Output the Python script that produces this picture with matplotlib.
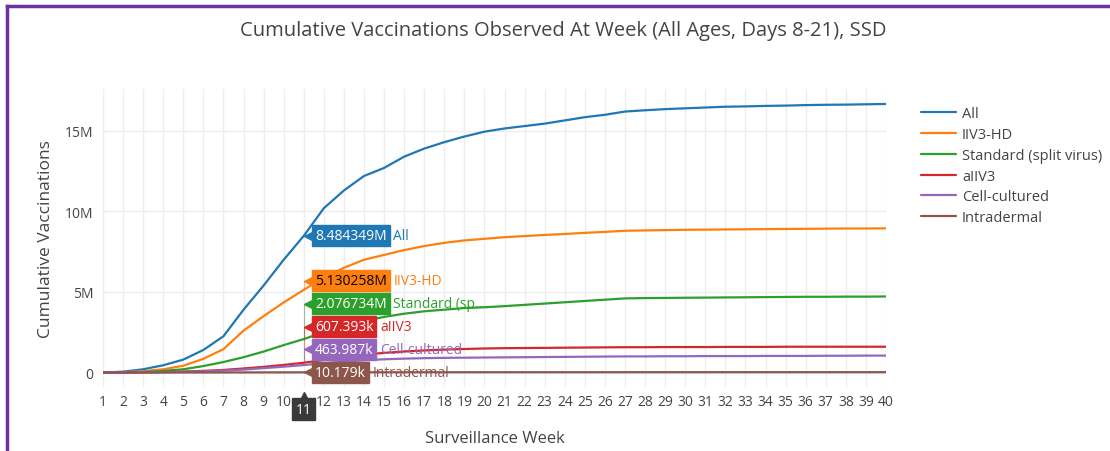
import numpy as np
import matplotlib
matplotlib.use("Agg")
import matplotlib.pyplot as plt
from matplotlib.lines import Line2D
from matplotlib.ticker import FuncFormatter
from matplotlib import transforms

plt.rcParams['font.family'] = ['Open Sans', 'DejaVu Sans']

# Data (millions of vaccinations), weeks 1-40
weeks = list(range(1, 41))

all_vax = [0.0, 0.05, 0.2, 0.45, 0.8, 1.4, 2.25, 3.9, 5.4, 7.0, 8.484349,
           10.2, 11.3, 12.2, 12.7, 13.4, 13.9, 14.3, 14.65, 14.95, 15.15,
           15.3, 15.45, 15.65, 15.85, 16.0, 16.2, 16.28, 16.35, 16.4, 16.45,
           16.5, 16.52, 16.55, 16.57, 16.6, 16.62, 16.63, 16.65, 16.67]
iiv3_hd = [0.0, 0.02, 0.08, 0.2, 0.42, 0.85, 1.45, 2.6, 3.5, 4.35, 5.130258,
           5.9, 6.5, 7.0, 7.3, 7.6, 7.85, 8.05, 8.2, 8.3, 8.4,
           8.47, 8.54, 8.6, 8.67, 8.73, 8.8, 8.82, 8.84, 8.86, 8.87,
           8.88, 8.89, 8.9, 8.91, 8.92, 8.93, 8.94, 8.94, 8.95]
standard = [0.0, 0.01, 0.04, 0.1, 0.2, 0.4, 0.65, 0.95, 1.3, 1.7, 2.076734,
            2.5, 2.9, 3.2, 3.45, 3.65, 3.8, 3.9, 4.0, 4.05, 4.12,
            4.2, 4.28, 4.36, 4.44, 4.52, 4.6, 4.62, 4.63, 4.64, 4.65,
            4.66, 4.67, 4.68, 4.69, 4.7, 4.7, 4.71, 4.71, 4.72]
aiiv3 = [0.0, 0.0, 0.01, 0.03, 0.06, 0.1, 0.16, 0.25, 0.35, 0.47, 0.607393,
         0.78, 0.95, 1.1, 1.22, 1.3, 1.37, 1.42, 1.46, 1.49, 1.51,
         1.52, 1.53, 1.54, 1.55, 1.56, 1.57, 1.57, 1.58, 1.58, 1.58,
         1.59, 1.59, 1.59, 1.6, 1.6, 1.6, 1.6, 1.6, 1.6]
cell = [0.0, 0.0, 0.01, 0.02, 0.04, 0.07, 0.12, 0.18, 0.27, 0.36, 0.463987,
        0.58, 0.68, 0.76, 0.82, 0.86, 0.89, 0.91, 0.92, 0.93, 0.94,
        0.95, 0.96, 0.97, 0.98, 0.99, 1.0, 1.0, 1.01, 1.01, 1.02,
        1.02, 1.02, 1.03, 1.03, 1.03, 1.04, 1.04, 1.05, 1.05]
intradermal = [0.0, 0.0, 0.0, 0.001, 0.001, 0.002, 0.003, 0.005, 0.007, 0.009, 0.010179,
               0.011, 0.012, 0.013, 0.014, 0.015, 0.015, 0.016, 0.016, 0.017, 0.017,
               0.017, 0.018, 0.018, 0.018, 0.018, 0.019, 0.019, 0.019, 0.019, 0.019,
               0.02, 0.02, 0.02, 0.02, 0.02, 0.02, 0.02, 0.02, 0.02]

names = ["All", "IIV3-HD", "Standard (split virus)", "aIIV3", "Cell-cultured", "Intradermal"]
short_names = ["All", "IIV3-HD", "Standard (sp...", "aIIV3", "Cell-cultured", "Intradermal"]
series = [all_vax, iiv3_hd, standard, aiiv3, cell, intradermal]
colors = ["#1f77b4", "#ff7f0e", "#2ca02c", "#d62728", "#9467bd", "#8c564b"]
hover_week = 11

fig = plt.figure(figsize=(11.1, 4.52), dpi=100)
ax = fig.add_axes([103 / 1110, 1 - 388 / 452, (886 - 103) / 1110, (388 - 90) / 452])

for vals, name, c in zip(series, names, colors):
    ax.plot(weeks, vals, color=c, lw=1.6, label=name, solid_capstyle='round')

ax.set_xlim(1, 40)
ax.set_ylim(-0.9, 17.6)
ax.set_xticks(weeks)
# the hover box covers the tick label of the hovered week
ax.set_xticklabels(["" if w == hover_week else str(w) for w in weeks])
ax.set_yticks([0, 5, 10, 15])
ax.yaxis.set_major_formatter(FuncFormatter(lambda v, p: "0" if v == 0 else f"{v:g}M"))
ax.grid(True, color="#eeeeee", lw=1)
ax.set_axisbelow(True)
for s in ax.spines.values():
    s.set_visible(False)
ax.tick_params(length=0, labelsize=10, colors="#444444", pad=5)
ax.tick_params(axis='y', pad=7)

ax.set_xlabel("Surveillance Week", fontsize=12, color="#444444", labelpad=15)
ax.set_ylabel("Cumulative Vaccinations", fontsize=12.5, color="#444444", labelpad=8)
fig.text(0.507, 0.932, "Cumulative Vaccinations Observed At Week (All Ages, Days 8-21), SSD",
         ha="center", va="center", fontsize=14.5, color="#444444")

# hover labels at week 11, stacked so they don't overlap
idx = weeks.index(hover_week)
gap = 1.42
order = list(range(len(series)))[::-1]
label_y = {}
prev = None
for i in order:
    v = series[i][idx]
    y = v if prev is None else max(v, prev + gap)
    label_y[i] = y
    prev = y


def fmt(v):
    if v >= 1:
        return f"{v:.6f}".rstrip('0').rstrip('.') + "M"
    return f"{v * 1000:.3f}" + "k"


for i in range(len(series)):
    v = series[i][idx]
    y = label_y[i]
    c = colors[i]
    tc = "black" if i == 1 else "white"
    t = ax.annotate(fmt(v), xy=(hover_week, y), xytext=(8, 0), textcoords="offset points",
                    ha="left", va="center", fontsize=10, color=tc,
                    bbox=dict(boxstyle="square,pad=0.22", fc=c, ec=c))
    tri = transforms.offset_copy(ax.transData, fig=fig, x=4, y=0, units="points")
    ax.plot([hover_week], [y], marker="<", ms=7, color=c, transform=tri, clip_on=False)
    if abs(y - v) > 0.05:
        ax.plot([hover_week, hover_week], [v, y], color=c, lw=0.8, alpha=0.5)
    ax.annotate(short_names[i], xy=(1, 0.5), xycoords=t, xytext=(5, 0),
                textcoords="offset points", ha="left", va="center", fontsize=10, color=c)

# x-axis hover box
ax.annotate(str(hover_week), xy=(hover_week, 0), xycoords=("data", "axes fraction"),
            xytext=(0, -16), textcoords="offset points", ha="center", va="center",
            fontsize=10, color="white",
            bbox=dict(boxstyle="square,pad=0.25", fc="#3a3a3a", ec="#3a3a3a"))
tri2 = transforms.offset_copy(ax.get_xaxis_transform(), fig=fig, x=0, y=-7, units="points")
ax.plot([hover_week], [0], marker="^", ms=7, color="#3a3a3a", transform=tri2, clip_on=False)

fig.legend(loc="upper left", bbox_to_anchor=(908 / 1110, 1 - 94 / 452), frameon=False,
           fontsize=10.5, handlelength=2.4, labelspacing=0.4, handletextpad=0.4,
           labelcolor="#444444")

# purple frame (top and left edges)
fig.add_artist(Line2D([7 / 1110, 1], [1 - 7 / 452, 1 - 7 / 452], color="#7030a0", lw=2.5,
                      transform=fig.transFigure))
fig.add_artist(Line2D([7 / 1110, 7 / 1110], [0, 1 - 7 / 452], color="#7030a0", lw=2.5,
                      transform=fig.transFigure))

fig.savefig("out.png", dpi=100)
